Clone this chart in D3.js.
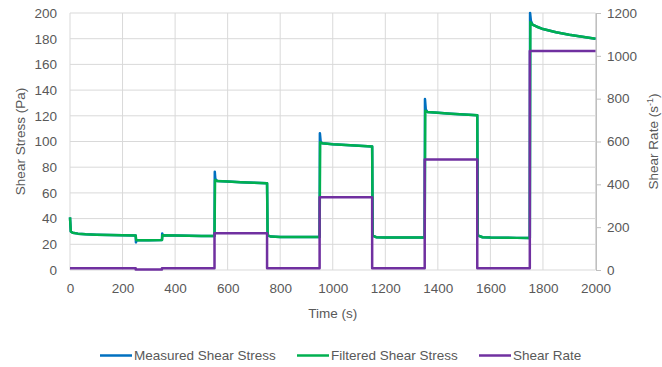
<!DOCTYPE html>
<html>
<head>
<meta charset="utf-8">
<script src="https://cdn.jsdelivr.net/npm/d3@7/dist/d3.min.js"></script>
<style>
  html, body { margin: 0; padding: 0; background: #fff; }
  text { font-family: "Liberation Sans", Arial, sans-serif; fill: #595959; }
</style>
</head>
<body>
<svg id="chart" width="662" height="367"></svg>
<script>
// ---- Data ----
const xTicks = [0, 200, 400, 600, 800, 1000, 1200, 1400, 1600, 1800, 2000];
const leftTicks = [0, 20, 40, 60, 80, 100, 120, 140, 160, 180, 200];
const rightTicks = [0, 200, 400, 600, 800, 1000, 1200];

const filteredTime = [0, 3, 10, 30, 60, 100, 150, 200, 250, 252, 300, 350, 352, 400, 450, 500, 550, 552, 560, 600, 650, 700, 750, 752, 765, 800, 900, 950, 952, 960, 1000, 1050, 1100, 1150, 1152, 1165, 1200, 1300, 1350, 1352, 1360, 1400, 1450, 1500, 1550, 1552, 1570, 1600, 1700, 1750, 1752, 1760, 1775, 1800, 1850, 1900, 1950, 2000];
const filteredStress = [41, 30, 29, 28.3, 27.8, 27.5, 27.2, 27, 26.8, 23.2, 23.2, 23.3, 27, 26.8, 26.6, 26.5, 26.5, 70, 69.2, 68.8, 68.3, 67.9, 67.5, 27, 26, 25.7, 25.6, 25.6, 99.5, 98.6, 97.8, 97.2, 96.7, 96.2, 26.8, 25.5, 25.3, 25.2, 25.2, 124, 123, 122.3, 121.6, 121, 120.5, 27, 25.5, 25.2, 25, 25, 193, 191, 189.5, 187.5, 185, 183, 181.5, 180];

const measuredTime = [0, 3, 10, 30, 60, 100, 150, 200, 250, 251, 253, 300, 350, 351, 353, 400, 450, 500, 550, 551, 553, 560, 600, 650, 700, 750, 752, 765, 800, 900, 950, 951, 954, 960, 1000, 1050, 1100, 1150, 1152, 1165, 1200, 1300, 1350, 1351, 1354, 1360, 1400, 1450, 1500, 1550, 1552, 1570, 1600, 1700, 1750, 1751, 1754, 1760, 1775, 1800, 1850, 1900, 1950, 2000];
const measuredStress = [41, 30, 29, 28.3, 27.8, 27.5, 27.2, 27, 26.8, 21.5, 23.2, 23.2, 23.3, 28.5, 27, 26.8, 26.6, 26.5, 26.5, 76.5, 71, 69.2, 68.8, 68.3, 67.9, 67.5, 27, 26, 25.7, 25.6, 25.6, 106.5, 100, 98.6, 97.8, 97.2, 96.7, 96.2, 26.8, 25.5, 25.3, 25.2, 25.2, 133, 125, 123, 122.3, 121.6, 121, 120.5, 27, 25.5, 25.2, 25, 25, 200, 194, 191, 189.5, 187.5, 185, 183, 181.5, 180];

const rateTime = [0, 250, 250, 350, 350, 550, 550, 750, 750, 950, 950, 1150, 1150, 1350, 1350, 1550, 1550, 1750, 1750, 2000];
const rateValue = [8, 8, 2, 2, 8, 8, 172, 172, 8, 8, 340, 340, 8, 8, 516, 516, 8, 8, 1022, 1022];

const seriesNames = ["Measured Shear Stress", "Filtered Shear Stress", "Shear Rate"];
const seriesColors = ["#0070C0", "#00B050", "#7030A0"];

// ---- Layout ----
const svg = d3.select("#chart");
const L = 70, R = 595.5, T = 13, B = 270;
const FONT = "Liberation Sans, Arial, sans-serif";
const FS = 13.5;

const x = d3.scaleLinear().domain([0, 2000]).range([L, R]);
const yL = d3.scaleLinear().domain([0, 200]).range([B, T]);
const yR = d3.scaleLinear().domain([0, 1200]).range([B, T]);
const fmt = d3.format("d");

// gridlines
const grid = svg.append("g");
grid.selectAll("line.h").data(leftTicks).enter().append("line")
  .attr("x1", L).attr("x2", R)
  .attr("y1", d => yL(d)).attr("y2", d => yL(d))
  .attr("stroke", "#d9d9d9").attr("stroke-width", 1);
grid.selectAll("line.v").data(xTicks).enter().append("line")
  .attr("x1", d => x(d)).attr("x2", d => x(d))
  .attr("y1", T).attr("y2", B)
  .attr("stroke", "#d9d9d9").attr("stroke-width", 1);

// left axis labels
const axL = svg.append("g").attr("transform", `translate(${L},0)`)
  .call(d3.axisLeft(yL).tickValues(leftTicks).tickFormat(fmt).tickSize(0).tickPadding(13));
axL.select(".domain").remove();
axL.selectAll("text").attr("font-size", FS).attr("font-family", FONT).attr("fill", "#595959");

// bottom axis labels
const axB = svg.append("g").attr("transform", `translate(0,${B})`)
  .call(d3.axisBottom(x).tickValues(xTicks).tickFormat(fmt).tickSize(0).tickPadding(13));
axB.select(".domain").remove();
axB.selectAll("text").attr("font-size", FS).attr("font-family", FONT).attr("fill", "#595959");

// right axis
const axR = svg.append("g").attr("transform", `translate(${R + 0.5},0)`)
  .call(d3.axisRight(yR).tickValues(rightTicks).tickFormat(fmt).tickSize(5).tickPadding(6));
axR.select(".domain").attr("stroke", "#bfbfbf");
axR.selectAll(".tick line").attr("stroke", "#bfbfbf");
axR.selectAll("text").attr("font-size", FS).attr("font-family", FONT).attr("fill", "#595959");

// lines
function pts(ts, vs) { return ts.map((t, i) => [t, vs[i]]); }
const lineL = d3.line().x(d => x(d[0])).y(d => yL(d[1]));
const lineR = d3.line().x(d => x(d[0])).y(d => yR(d[1]));

svg.append("path").datum(pts(measuredTime, measuredStress)).attr("d", lineL)
  .attr("fill", "none").attr("stroke", seriesColors[0]).attr("stroke-width", 2.5).attr("stroke-linejoin", "round");
svg.append("path").datum(pts(filteredTime, filteredStress)).attr("d", lineL)
  .attr("fill", "none").attr("stroke", seriesColors[1]).attr("stroke-width", 2.5).attr("stroke-linejoin", "round");
svg.append("path").datum(pts(rateTime, rateValue)).attr("d", lineR)
  .attr("fill", "none").attr("stroke", seriesColors[2]).attr("stroke-width", 2.5).attr("stroke-linejoin", "round");

// axis titles
svg.append("text").attr("x", (L + R) / 2).attr("y", 318).attr("text-anchor", "middle")
  .attr("font-size", FS).text("Time (s)");
svg.append("text").attr("transform", `translate(25,${(T + B) / 2}) rotate(-90)`).attr("text-anchor", "middle")
  .attr("font-size", FS).text("Shear Stress (Pa)");
const rt = svg.append("text").attr("transform", `translate(658,${(T + B) / 2}) rotate(-90)`).attr("text-anchor", "middle")
  .attr("font-size", FS);
rt.append("tspan").text("Shear Rate (s");
rt.append("tspan").attr("font-size", 9).attr("dy", -5).text("-1");
rt.append("tspan").attr("dy", 5).text(")");

// legend
const legX = [100, 297, 479];
const leg = svg.append("g");
seriesNames.forEach((n, i) => {
  leg.append("line").attr("x1", legX[i]).attr("x2", legX[i] + 32)
    .attr("y1", 355.5).attr("y2", 355.5)
    .attr("stroke", seriesColors[i]).attr("stroke-width", 2.5);
  leg.append("text").attr("x", legX[i] + 34).attr("y", 360).attr("font-size", FS).text(n);
});
</script>
</body>
</html>
